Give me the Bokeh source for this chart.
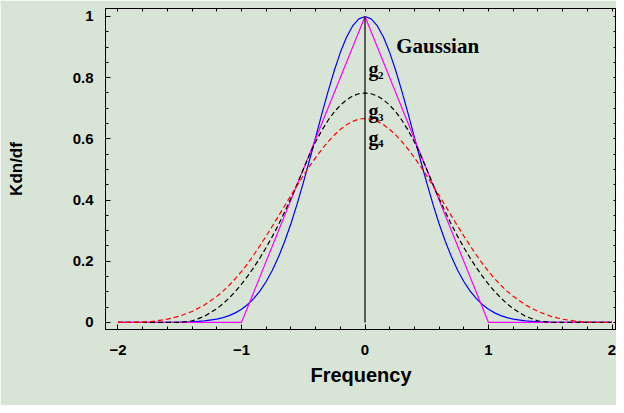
from bokeh.plotting import figure
from bokeh.models import LinearAxis, FixedTicker, Range1d
from bokeh.core.properties import value
from bokeh.embed import file_html
from bokeh.resources import INLINE

# ---------------- data ----------------
freq = [-2.0, -1.9, -1.8, -1.7, -1.6, -1.5, -1.4, -1.3,
        -1.2, -1.15, -1.1, -1.05, -1.0, -0.95, -0.9, -0.85, -0.8, -0.75,
        -0.7, -0.65, -0.6, -0.55, -0.5, -0.45, -0.4, -0.35, -0.3, -0.25,
        -0.2, -0.15, -0.1, -0.05, 0.0, 0.05, 0.1, 0.15, 0.2, 0.25,
        0.3, 0.35, 0.4, 0.45, 0.5, 0.55, 0.6, 0.65, 0.7, 0.75,
        0.8, 0.85, 0.9, 0.95, 1.0, 1.05, 1.1, 1.15, 1.2,
        1.3, 1.4, 1.5, 1.6, 1.7, 1.8, 1.9, 2.0]

gaussian = [0.0, 0.0, 0.0, 0.0001, 0.0003, 0.0009, 0.0021, 0.0049,
            0.0108, 0.0157, 0.0223, 0.0313, 0.0432, 0.0587, 0.0785, 0.1033, 0.1339, 0.1708,
            0.2145, 0.2652, 0.3227, 0.3866, 0.4559, 0.5293, 0.6049, 0.6806, 0.7537, 0.8217,
            0.8819, 0.9318, 0.9691, 0.9922, 1.0, 0.9922, 0.9691, 0.9318, 0.8819, 0.8217,
            0.7537, 0.6806, 0.6049, 0.5293, 0.4559, 0.3866, 0.3227, 0.2652, 0.2145, 0.1708,
            0.1339, 0.1033, 0.0785, 0.0587, 0.0432, 0.0313, 0.0223, 0.0157, 0.0108,
            0.0049, 0.0021, 0.0009, 0.0003, 0.0001, 0.0, 0.0, 0.0]

g3 = [0.0, 0.0, 0.0, 0.0, 0.0, 0.0, 0.005, 0.02,
      0.045, 0.0613, 0.08, 0.1013, 0.125, 0.1513, 0.18, 0.2113, 0.245, 0.2813,
      0.32, 0.3613, 0.405, 0.4513, 0.5, 0.5475, 0.59, 0.6275, 0.66, 0.6875,
      0.71, 0.7275, 0.74, 0.7475, 0.75, 0.7475, 0.74, 0.7275, 0.71, 0.6875,
      0.66, 0.6275, 0.59, 0.5475, 0.5, 0.4513, 0.405, 0.3613, 0.32, 0.2813,
      0.245, 0.2113, 0.18, 0.1513, 0.125, 0.1013, 0.08, 0.0613, 0.045,
      0.02, 0.005, 0.0, 0.0, 0.0, 0.0, 0.0, 0.0]

g4 = [0.0, 0.0002, 0.0013, 0.0045, 0.0107, 0.0208, 0.036, 0.0572,
      0.0853, 0.1024, 0.1215, 0.1429, 0.1667, 0.1929, 0.2212, 0.2513, 0.2827, 0.3151,
      0.3482, 0.3815, 0.4147, 0.4474, 0.4792, 0.5098, 0.5387, 0.5656, 0.5902, 0.612,
      0.6307, 0.6459, 0.6572, 0.6642, 0.6667, 0.6642, 0.6572, 0.6459, 0.6307, 0.612,
      0.5902, 0.5656, 0.5387, 0.5098, 0.4792, 0.4474, 0.4147, 0.3815, 0.3482, 0.3151,
      0.2827, 0.2513, 0.2212, 0.1929, 0.1667, 0.1429, 0.1215, 0.1024, 0.0853,
      0.0572, 0.036, 0.0208, 0.0107, 0.0045, 0.0013, 0.0002, 0.0]

g2_freq = [-2.0, -1.0, 0.0, 1.0, 2.0]
g2 = [0.0, 0.0, 1.0, 0.0, 0.0]

stem_freq = [0.0, 0.0]
stem_val = [0.0, 1.0]

x_ticks = [-2, -1, 0, 1, 2]
x_tick_labels = ["\u22122", "\u22121", "0", "1", "2"]
y_ticks = [0, 0.2, 0.4, 0.6, 0.8, 1]
y_tick_labels = ["0", "0.2", "0.4", "0.6", "0.8", "1"]
x_minor = [-2.0, -1.8, -1.6, -1.4, -1.2, -1.0, -0.8, -0.6, -0.4, -0.2, 0.0,
           0.2, 0.4, 0.6, 0.8, 1.0, 1.2, 1.4, 1.6, 1.8, 2.0]
y_minor = [0.0, 0.05, 0.1, 0.15, 0.2, 0.25, 0.3, 0.35, 0.4, 0.45, 0.5,
           0.55, 0.6, 0.65, 0.7, 0.75, 0.8, 0.85, 0.9, 0.95, 1.0]

# ---------------- figure ----------------
BG = "#d8e4d6"
SANS = "Liberation Sans"
SERIF = "Liberation Serif"

p = figure(width=616, height=405, output_backend="svg", toolbar_location=None,
           x_range=Range1d(-2.1012, 2.0364), y_range=Range1d(-0.023, 1.026),
           background_fill_color=BG, border_fill_color=BG,
           min_border_left=105, min_border_right=0, min_border_top=8,
           min_border_bottom=76, outline_line_color="black",
           x_axis_label="Frequency", y_axis_label="Kdn/df")
p.grid.visible = False


def style(ax, labels):
    ax.axis_line_color = "black"
    ax.major_tick_line_color = "black"
    ax.minor_tick_line_color = "black"
    ax.major_tick_in = 5
    ax.major_tick_out = 0
    ax.minor_tick_in = 3
    ax.minor_tick_out = 0
    if labels:
        ax.major_label_text_font = SANS
        ax.major_label_text_font_style = "bold"
        ax.major_label_text_font_size = "15px"
        ax.major_label_text_color = "black"
        ax.axis_label_text_font = SANS
        ax.axis_label_text_font_style = "bold"
        ax.axis_label_text_color = "black"


xa = p.xaxis[0]
xa.ticker = FixedTicker(ticks=x_ticks, minor_ticks=x_minor)
xa.major_label_overrides = dict(zip(x_ticks, x_tick_labels))
style(xa, True)
xa.major_label_standoff = 15
xa.axis_label_text_font_size = "20px"
xa.axis_label_standoff = 6

ya = p.yaxis[0]
ya.ticker = FixedTicker(ticks=y_ticks, minor_ticks=y_minor)
ya.major_label_overrides = dict(zip(y_ticks, y_tick_labels))
style(ya, True)
ya.major_label_standoff = 12
ya.axis_label_text_font_size = "17px"
ya.axis_label_standoff = 44

# frame ticks on top and right (tick marks only, no labels)
top = LinearAxis(ticker=FixedTicker(ticks=[], minor_ticks=x_minor))
style(top, False)
p.add_layout(top, "above")
right = LinearAxis(ticker=FixedTicker(ticks=[], minor_ticks=y_minor))
style(right, False)
p.add_layout(right, "right")

# ---------------- curves ----------------
p.line(freq, gaussian, line_color="#0000ff", line_width=1.2)
p.line(g2_freq, g2, line_color="#ff00ff", line_width=1.2)
p.line(freq, g3, line_color="black", line_width=1.2, line_dash="5 3")
p.line(freq, g4, line_color="#ff0000", line_width=1.2, line_dash="5 3")
p.line(stem_freq, stem_val, line_color="black", line_width=1.2)

# ---------------- labels ----------------
p.text(x=[0.253], y=[0.905], text=["Gaussian"], text_font=value(SERIF),
       text_font_style="bold", text_font_size="21px", text_color="black",
       text_align="left", text_baseline="alphabetic")

g_x = 0.028
sub_x = 0.105
for base_y, digit in [(0.827, "2"), (0.690, "3"), (0.603, "4")]:
    p.text(x=[g_x], y=[base_y], text=["g"], text_font=value(SERIF),
           text_font_style="bold", text_font_size="20px", text_color="black",
           text_align="left", text_baseline="alphabetic")
    p.text(x=[sub_x], y=[base_y - 0.0196], text=[digit], text_font=value(SERIF),
           text_font_style="bold", text_font_size="11px", text_color="black",
           text_align="left", text_baseline="alphabetic")

open("out.html", "w").write(file_html(p, INLINE))
